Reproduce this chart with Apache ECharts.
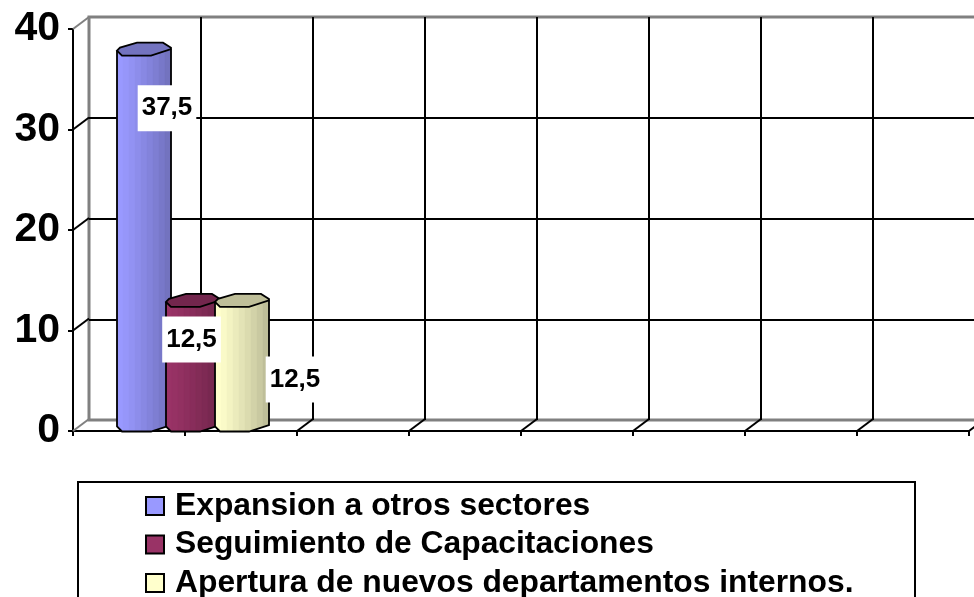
<!DOCTYPE html>
<html>
<head>
<meta charset="utf-8">
<style>html,body{margin:0;padding:0;background:#fff;overflow:hidden}#c{width:974px;height:597px}</style>
<script src="https://cdn.jsdelivr.net/npm/echarts@6/dist/echarts.min.js"></script>
</head>
<body>
<div id="c"></div>
<script>
var categories = ['', '', '', '', '', '', '', ''];
var seriesNames = ['Expansion a otros sectores', 'Seguimiento de Capacitaciones', 'Apertura de nuevos departamentos internos.'];
var expansion = [37.5];
var seguimiento = [12.5];
var apertura = [12.5];
var valueTicks = [0, 10, 20, 30, 40];

var FONT = '"Liberation Sans", Arial, sans-serif';
var DEPTH_X = 16, DEPTH_Y = 12;
var barColors = ['#9999FF', '#993366', '#FFFFCC'];
var barOffsets = [15, 64, 113];
var labelOffsets = [[38, 54], [62.5, 34], [166, 74]];
var frontEdge = [[-27, 1.5], [-22, 6.5], [7, 6.5], [27, 0]];
var capShape = [[-27, 1.5], [-24, -1.5], [-7, -6.5], [19, -6.5], [27, -1.5], [27, 0], [7, 6.5], [-22, 6.5]];

function shade(hex, f) {
  var n = parseInt(hex.slice(1), 16);
  var r = Math.round((n >> 16 & 255) * f), g = Math.round((n >> 8 & 255) * f), b = Math.round((n & 255) * f);
  return 'rgb(' + r + ',' + g + ',' + b + ')';
}
function frontY(dx) {
  for (var i = 0; i < frontEdge.length - 1; i++) {
    var a = frontEdge[i], b = frontEdge[i + 1];
    if (dx <= b[0]) return a[1] + (b[1] - a[1]) * (dx - a[0]) / (b[0] - a[0]);
  }
  return 0;
}
function cylinder(idx) {
  return function (params, api) {
    var color = barColors[idx];
    var top = api.coord([api.value(0), api.value(1)]);
    var base = api.coord([api.value(0), 0]);
    var cx = top[0] + barOffsets[idx];
    var yt = top[1] - 5, yb = base[1] - DEPTH_Y / 2;
    var kids = [];
    var n = 9, w = 54 / n;
    for (var i = 0; i < n; i++) {
      var x0 = -27 + i * w, x1 = x0 + w;
      var f = 1 - 0.25 * Math.pow(i / (n - 1), 1.2);
      var c = shade(color, f);
      kids.push({
        type: 'polygon', z2: idx * 10,
        shape: { points: [[cx + x0, yt + frontY(x0)], [cx + x1, yt + frontY(x1)], [cx + x1, yb + frontY(x1)], [cx + x0, yb + frontY(x0)]] },
        style: { fill: c, stroke: c, lineWidth: 0.5 }
      });
    }
    var outline = [[cx - 27, yt + frontY(-27)]];
    frontEdge.forEach(function (p) { outline.push([cx + p[0], yb + p[1]]); });
    outline.push([cx + 27, yt]);
    kids.push({ type: 'polyline', z2: idx * 10 + 1, shape: { points: outline }, style: { fill: 'none', stroke: '#000', lineWidth: 1.8 } });
    kids.push({
      type: 'polygon', z2: idx * 10 + 2,
      shape: { points: capShape.map(function (p) { return [cx + p[0], yt + p[1]]; }) },
      style: { fill: shade(color, 0.75), stroke: '#000', lineWidth: 1.8 }
    });
    kids.push({
      type: 'text', z2: 100,
      style: {
        text: String(api.value(1)).replace('.', ','),
        x: top[0] + labelOffsets[idx][0], y: top[1] + labelOffsets[idx][1],
        align: 'center', verticalAlign: 'middle',
        font: 'bold 26px ' + FONT, fill: '#000',
        backgroundColor: '#fff', padding: [10, 4]
      }
    });
    return { type: 'group', children: kids };
  };
}
function depthLines(params, api) {
  var cs = params.coordSys, kids = [];
  function seg(x, y, col) {
    kids.push({ type: 'line', shape: { x1: x, y1: y, x2: x + DEPTH_X, y2: y - DEPTH_Y }, style: { stroke: col, lineWidth: 2 } });
  }
  valueTicks.forEach(function (v, i) {
    seg(cs.x, api.coord([0, v])[1], (i === 0 || i === valueTicks.length - 1) ? '#808080' : '#000');
  });
  categories.forEach(function (c, k) {
    if (k > 0) seg(cs.x + k * cs.width / categories.length, cs.y + cs.height, '#000');
  });
  seg(cs.x + cs.width, cs.y + cs.height, '#000');
  return { type: 'group', children: kids };
}

var axisBlack = { lineStyle: { color: '#000', width: 2 } };
var chart = echarts.init(document.getElementById('c'), null, { renderer: 'canvas' });
chart.setOption({
  animation: false,
  backgroundColor: '#fff',
  grid: [
    { left: 73, top: 29, width: 896, height: 402, outerBoundsMode: 'none' },
    { left: 89, top: 17, width: 896, height: 403, outerBoundsMode: 'none', show: true, backgroundColor: '#fff', borderColor: '#808080', borderWidth: 3 }
  ],
  xAxis: [
    { type: 'category', gridIndex: 0, data: categories, boundaryGap: true,
      axisLine: axisBlack, axisTick: { show: true, alignWithLabel: false, length: 5, lineStyle: { color: '#000', width: 2 } },
      axisLabel: { show: false }, splitLine: { show: false } },
    { type: 'category', gridIndex: 1, data: categories, boundaryGap: true,
      axisLine: { show: false }, axisTick: { show: false }, axisLabel: { show: false },
      splitLine: { show: true, interval: 0, showMinLine: false, showMaxLine: false, lineStyle: { color: '#000', width: 2 } } }
  ],
  yAxis: [
    { type: 'value', gridIndex: 0, min: 0, max: 40, interval: 10,
      axisLine: { show: true, lineStyle: { color: '#000', width: 2 } },
      axisTick: { show: true, length: 5, lineStyle: { color: '#000', width: 2 } },
      axisLabel: { margin: 13, color: '#000', fontFamily: FONT, fontWeight: 'bold', fontSize: 41, padding: [9, 0, 0, 0] },
      splitLine: { show: false } },
    { type: 'value', gridIndex: 1, min: 0, max: 40, interval: 10,
      axisLine: { show: false }, axisTick: { show: false }, axisLabel: { show: false },
      splitLine: { show: true, showMinLine: false, showMaxLine: false, lineStyle: { color: '#000', width: 2 } } }
  ],
  legend: {
    data: seriesNames,
    orient: 'vertical',
    left: 140, top: 485, height: 160,
    itemWidth: 18, itemHeight: 18, itemGap: 6.5,
    icon: 'rect',
    selectedMode: false,
    itemStyle: { borderColor: '#000', borderWidth: 2 },
    textStyle: { color: '#000', fontFamily: FONT, fontWeight: 'bold', fontSize: 31.8, padding: [0, 0, 0, 6] }
  },
  graphic: [{
    type: 'rect', z: -1, silent: true,
    shape: { x: 78, y: 482, width: 837, height: 130 },
    style: { fill: '#fff', stroke: '#000', lineWidth: 2 }
  }],
  series: [
    { type: 'custom', name: 'depth', xAxisIndex: 0, yAxisIndex: 0, z: 1, silent: true, clip: false, data: [[0, 0]], renderItem: depthLines },
    { type: 'custom', name: seriesNames[0], xAxisIndex: 0, yAxisIndex: 0, z: 3, clip: false, itemStyle: { color: barColors[0] },
      data: expansion.map(function (v, i) { return [i, v]; }), encode: { x: 0, y: 1 }, renderItem: cylinder(0) },
    { type: 'custom', name: seriesNames[1], xAxisIndex: 0, yAxisIndex: 0, z: 3, clip: false, itemStyle: { color: barColors[1] },
      data: seguimiento.map(function (v, i) { return [i, v]; }), encode: { x: 0, y: 1 }, renderItem: cylinder(1) },
    { type: 'custom', name: seriesNames[2], xAxisIndex: 0, yAxisIndex: 0, z: 3, clip: false, itemStyle: { color: barColors[2] },
      data: apertura.map(function (v, i) { return [i, v]; }), encode: { x: 0, y: 1 }, renderItem: cylinder(2) }
  ]
});
</script>
</body>
</html>
